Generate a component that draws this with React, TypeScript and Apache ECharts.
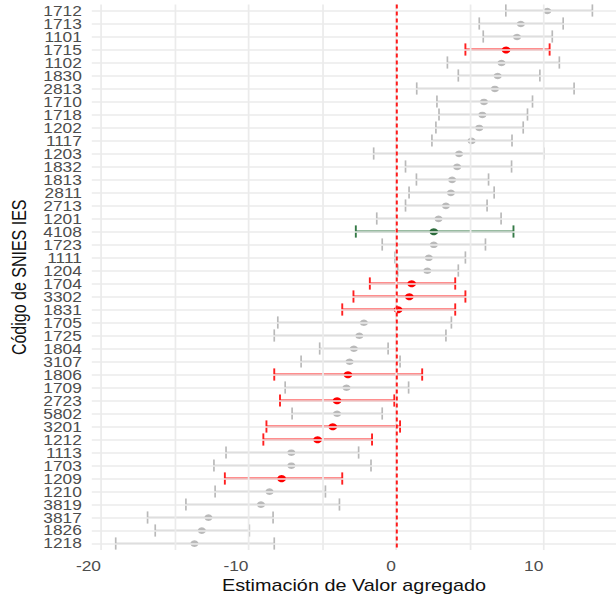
import { useEffect, useRef } from "react";
import * as echarts from "echarts";

const codes = [
  "1712", "1713", "1101", "1715", "1102", "1830", "2813", "1710", "1718", "1202",
  "1117", "1203", "1832", "1813", "2811", "2713", "1201", "4108", "1723", "1111",
  "1204", "1704", "3302", "1831", "1705", "1725", "1804", "3107", "1806", "1709",
  "2723", "5802", "3201", "1212", "1113", "1703", "1209", "1210", "3819", "3817",
  "1826", "1218",
];

const lower = [
  7.45, 5.65, 5.92, 4.71, 3.49, 4.23, 1.41, 2.78, 2.92, 2.71,
  2.44, -1.51, 0.65, 1.39, 0.89, 0.65, -1.3, -2.72, -0.93, -0.06,
  0.12, -1.77, -2.88, -3.64, -8.01, -8.25, -5.17, -6.43, -8.25, -7.51,
  -7.86, -7.04, -8.78, -8.99, -11.52, -12.34, -11.6, -12.26, -14.24, -16.84,
  -16.32, -19.0,
];

const estimate = [
  10.26, 8.47, 8.21, 7.47, 7.16, 6.9, 6.71, 5.97, 5.86, 5.65,
  5.13, 4.28, 4.15, 3.81, 3.73, 3.39, 2.89, 2.57, 2.57, 2.23,
  2.13, 1.07, 0.91, 0.15, -2.17, -2.48, -2.85, -3.14, -3.25, -3.35,
  -3.99, -3.99, -4.28, -5.31, -7.09, -7.09, -7.75, -8.57, -9.15, -12.71,
  -13.16, -13.66,
];

const upper = [
  13.32, 11.34, 10.6, 10.42, 11.08, 9.76, 12.08, 9.26, 8.92, 8.63,
  7.87, 10.03, 7.84, 6.28, 6.66, 6.18, 7.13, 7.97, 6.07, 4.71,
  4.23, 4.02, 4.71, 4.02, 3.76, 3.39, -0.53, 0.28, 1.78, 0.86,
  -0.11, -0.93, 0.28, -1.62, -2.53, -1.69, -3.64, -4.78, -3.83, -8.33,
  -9.94, -8.25,
];

const highlight = [
  "gray", "gray", "gray", "red", "gray", "gray", "gray", "gray", "gray", "gray",
  "gray", "gray", "gray", "gray", "gray", "gray", "gray", "green", "gray", "gray",
  "gray", "red", "red", "red", "gray", "gray", "gray", "gray", "red", "gray",
  "red", "gray", "red", "red", "gray", "gray", "red", "gray", "gray", "gray",
  "gray", "gray",
];

const xTickLabels = [-20, -10, 0, 10];
const xGridValues = [-20, -15, -10, -5, 0, 5, 10];
const referenceValue = 0;

const groups = ["gray", "red", "green"];
const pointColors = ["#bababa", "#ff0000", "#2b6b3b"];
const barColors = ["#b9b9b9", "#ff1f1f", "#357a47"];
const barWidths = [1.6, 1.8, 1.8];

const FONT = "'Liberation Sans', Arial, sans-serif";
const STRETCH = 1.24;
const BASE_W = 497;
const BASE_H = 599;

export default function App() {
  const ref = useRef<HTMLDivElement>(null);

  useEffect(() => {
    if (!ref.current) return;
    const chart = echarts.init(ref.current, undefined, {
      renderer: "svg",
      width: BASE_W,
      height: BASE_H,
    });

    const gridLineData = [
      ...xGridValues.map((v) => ({ xAxis: v, lineStyle: { color: "#ebebeb", width: 1.4, type: "solid" } })),
      ...codes.map((c) => ({ yAxis: c, lineStyle: { color: "#ebebeb", width: 1.5, type: "solid" } })),
    ];

    const option = {
      animation: false,
      grid: { left: 71.1, top: 4.5, width: 427.8, height: 548, containLabel: false },
      xAxis: {
        type: "value",
        min: -20.62,
        max: 14.94,
        axisLine: { show: false },
        axisTick: { show: false },
        splitLine: { show: false },
        axisLabel: {
          customValues: xTickLabels,
          showMinLabel: true,
          showMaxLabel: true,
          align: "right",
          margin: 9,
          color: "#4d4d4d",
          fontSize: 14,
          fontFamily: FONT,
        },
        name: "Estimación de Valor agregado",
        nameLocation: "middle",
        nameGap: 26,
        nameTextStyle: { color: "#111", fontSize: 16, fontFamily: FONT },
      },
      yAxis: {
        type: "category",
        data: codes,
        inverse: true,
        boundaryGap: true,
        axisLine: { show: false },
        axisTick: { show: false },
        splitLine: { show: false },
        axisLabel: {
          interval: 0,
          margin: 8,
          color: "#4d4d4d",
          fontSize: 14,
          fontFamily: FONT,
        },
        name: "Código de SNIES IES",
        nameLocation: "middle",
        nameRotate: 90,
        nameGap: 46,
        nameTextStyle: { color: "#111", fontSize: 16, fontFamily: FONT },
      },
      series: [
        {
          type: "scatter",
          data: [],
          silent: true,
          z: 1,
          markLine: {
            silent: true,
            animation: false,
            symbol: ["none", "none"],
            label: { show: false },
            emphasis: { disabled: true },
            data: gridLineData,
          },
        },
        {
          type: "custom",
          z: 2,
          silent: true,
          encode: { x: [1, 2], y: 0 },
          data: codes.map((_, i) => [i, lower[i], upper[i], groups.indexOf(highlight[i])]),
          renderItem: (_params: any, api: any) => {
            const idx = api.value(0);
            const lo = api.coord([api.value(1), idx]);
            const hi = api.coord([api.value(2), idx]);
            const g = api.value(3);
            const half = api.size([0, 1])[1] * 0.47;
            const y = Math.round(lo[1] - 0.5) + 0.5;
            const style = { stroke: barColors[g], lineWidth: barWidths[g], fill: "none" };
            const capStyle = { stroke: barColors[g], lineWidth: barWidths[g] * 0.85, fill: "none" };
            return {
              type: "group",
              children: [
                { type: "line", shape: { x1: lo[0], y1: y, x2: hi[0], y2: y }, style },
                { type: "line", shape: { x1: lo[0], y1: y - half, x2: lo[0], y2: y + half }, style: capStyle },
                { type: "line", shape: { x1: hi[0], y1: y - half, x2: hi[0], y2: y + half }, style: capStyle },
              ],
            };
          },
        },
        {
          type: "scatter",
          data: [],
          silent: true,
          z: 3,
          markLine: {
            silent: true,
            animation: false,
            symbol: ["none", "none"],
            label: { show: false },
            emphasis: { disabled: true },
            lineStyle: { color: "#ff1a1a", width: 1.6, type: [4, 3] },
            data: [{ xAxis: referenceValue }],
          },
        },
        {
          type: "scatter",
          z: 4,
          silent: true,
          symbol: "circle",
          data: codes.map((_, i) => {
            const g = groups.indexOf(highlight[i]);
            return {
              value: [estimate[i], i],
              symbolSize: g === 0 ? 6.5 : 7,
              itemStyle: { color: pointColors[g], opacity: 1 },
            };
          }),
        },
      ],
    };

    chart.setOption(option as any);
    return () => chart.dispose();
  }, []);

  return (
    <div
      style={{
        position: "fixed",
        left: 0,
        top: 0,
        width: 616,
        height: 599,
        overflow: "hidden",
        background: "#fff",
      }}
    >
      <div
        ref={ref}
        style={{
          width: BASE_W,
          height: BASE_H,
          transform: `scaleX(${STRETCH})`,
          transformOrigin: "0 0",
        }}
      />
    </div>
  );
}
